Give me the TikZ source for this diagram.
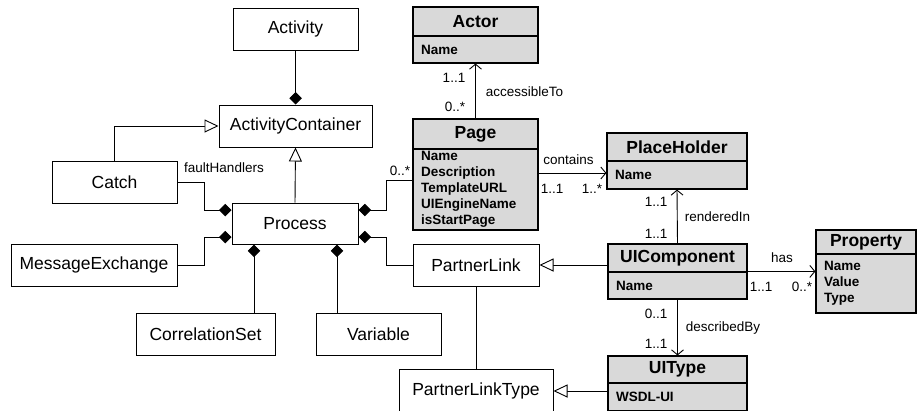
\documentclass[tikz,border=0pt]{standalone}
\usepackage{fontspec}
\setmainfont{Liberation Sans}
\usetikzlibrary{arrows.meta,calc}
\definecolor{boxgray}{RGB}{217,217,217}
\begin{document}
\begin{tikzpicture}[x=1pt,y=-1pt,
  wbox/.style={draw, line width=1pt, inner sep=0pt, font=\fontsize{17.5}{20}\selectfont},
  ghead/.style={draw, line width=1.2pt, fill=boxgray, inner sep=0pt, font=\fontsize{17.5}{20}\selectfont\bfseries},
  gbody/.style={draw, line width=1.2pt, fill=boxgray, inner xsep=8pt, inner ysep=0pt, align=left, font=\fontsize{13.5}{16}\selectfont\bfseries},
  lbl/.style={font=\fontsize{13.5}{16}\selectfont, inner sep=0pt},
  conn/.style={line width=0.9pt},
  comp/.style={conn, {Diamond[length=12.5pt,width=12.5pt]}-},
  inh/.style={conn, -{Triangle[length=14pt,width=13pt,fill=white]}},
  nav/.style={conn, -{Straight Barb[length=5pt,width=12pt]}},
]
\useasboundingbox (0,0) rectangle (917,410);
\clip (0,0) rectangle (917,410);

% white classes
\node[wbox, minimum width=125pt, minimum height=42pt] (activity) at (295.5,29) {Activity};
\node[wbox, minimum width=153pt, minimum height=42pt] (actcont) at (295.5,126) {ActivityContainer};
\node[wbox, minimum width=125pt, minimum height=42pt] (catch) at (114.5,182) {Catch};
\node[wbox, minimum width=126pt, minimum height=41pt] (process) at (295,223.5) {Process};
\node[wbox, minimum width=166pt, minimum height=42pt] (msgex) at (94,265) {MessageExchange};
\node[wbox, minimum width=139pt, minimum height=42pt] (corr) at (205.5,334) {CorrelationSet};
\node[wbox, minimum width=125pt, minimum height=42pt] (variable) at (378.5,334) {Variable};
\node[wbox, minimum width=126pt, minimum height=42pt] (plink) at (476,265) {PartnerLink};
\node[wbox, minimum width=154pt, minimum height=44pt] (plt) at (476,391) {PartnerLinkType};

% gray classes
\node[ghead, minimum width=125pt, minimum height=29pt] (actorh) at (475.5,21.5) {Actor};
\node[gbody, text width=109pt, minimum height=27pt] (actorb) at (475.5,49.5) {Name};

\node[ghead, minimum width=125pt, minimum height=30pt] (pageh) at (475.5,134) {Page};
\node[gbody, text width=109pt, minimum height=81pt] (pageb) at (475.5,189.5) {Name\\Description\\TemplateURL\\UIEngineName\\isStartPage};

\node[ghead, minimum width=140pt, minimum height=28pt] (phh) at (677,147) {PlaceHolder};
\node[gbody, text width=124pt, minimum height=28pt] (phb) at (677,175) {Name};

\node[ghead, minimum width=139pt, minimum height=28pt] (uich) at (677.5,258) {UIComponent};
\node[gbody, text width=123pt, minimum height=27pt] (uicb) at (677.5,285.5) {Name};

\node[ghead, minimum width=100pt, minimum height=24pt] (proph) at (866,242) {Property};
\node[gbody, text width=84pt, minimum height=59pt] (propb) at (866,283.5) {Name\\Value\\Type};

\node[ghead, minimum width=139pt, minimum height=27pt] (uith) at (677.5,369.5) {UIType};
\node[gbody, text width=123pt, minimum height=28pt] (uitb) at (677.5,397) {WSDL-UI};

% BPEL side connectors
\draw[comp] (actcont.north) -- (activity.south);
\draw[inh] (catch.north) |- (actcont.west);
\draw[inh] (process.north) -- (actcont.south);
\draw[comp] ([yshift=13.5pt]process.west) -- ++(-27,0) |- (catch.east);
\draw[comp] ([yshift=-13.5pt]process.west) -- ++(-27,0) |- (msgex.east);
\draw[comp] ([xshift=-41pt]process.south) -- ([xshift=-41pt]process.south |- corr.north);
\draw[comp] ([xshift=42pt]process.south) -- ([xshift=42pt]process.south |- variable.north);
\draw[comp] ([yshift=13.5pt]process.east) -- ++(28,0) |- ([yshift=9.5pt]pageb.west);
\draw[comp] ([yshift=-13.5pt]process.east) -- ++(28,0) |- (plink.west);
\draw[conn] (plink.south) -- (plt.north);
\draw[inh] (plink.east -| uich.west) -- (plink.east);
\draw[inh] (plt.east -| uith.west) -- (plt.east);

% UI side connectors
\draw[nav] (pageh.north) -- (actorb.south);
\draw[nav] ([yshift=16.5pt]pageb.east) -- ([yshift=16.5pt]pageb.east -| phb.west);
\draw[nav] (uich.north) -- (phb.south);
\draw[nav] (uicb.north east) -- (uicb.north east -| propb.west);
\draw[nav] (uicb.south) -- (uith.north);

% labels
\node[lbl] (lfault) at (224,168) {faultHandlers};
\node[lbl] (lpagem) at (400,171) {0..*};
\node[lbl] (lacc1) at (454,78) {1..1};
\node[lbl] (lacc) at (524.5,92) {accessibleTo};
\node[lbl] (lacc2) at (455,107) {0..*};
\node[lbl] (lcont) at (568.5,160) {contains};
\node[lbl] (lcont1) at (552,189) {1..1};
\node[lbl] (lcont2) at (592,189) {1..*};
\node[lbl] (lren1) at (656,202) {1..1};
\node[lbl] (lren) at (717.5,217) {renderedIn};
\node[lbl] (lren2) at (656,234) {1..1};
\node[lbl] (lhas) at (782,258) {has};
\node[lbl] (lhas1) at (761,287) {1..1};
\node[lbl] (lhas2) at (802,287) {0..*};
\node[lbl] (ldes1) at (656,314) {0..1};
\node[lbl] (ldes) at (723,328) {describedBy};
\node[lbl] (ldes2) at (656,344) {1..1};
\end{tikzpicture}
\end{document}
